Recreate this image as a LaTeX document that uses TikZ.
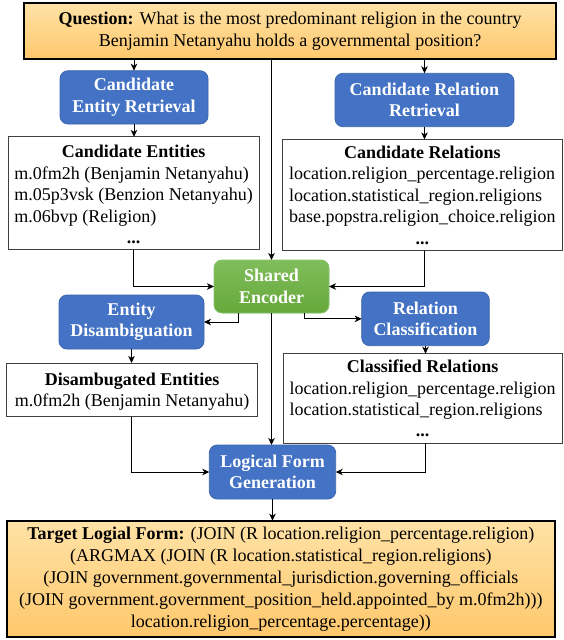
\documentclass[tikz,border=0pt]{standalone}
\usepackage{fontspec}
\setmainfont{Liberation Serif}
\usetikzlibrary{arrows.meta,calc}
\definecolor{bluebox}{HTML}{4472C4}
\definecolor{blueedge}{HTML}{3C66B0}
\definecolor{greentop}{HTML}{80BD5C}
\definecolor{greenbot}{HTML}{66A83A}
\definecolor{greenedge}{HTML}{8CC46A}
\definecolor{orangetop}{HTML}{FFE2A6}
\definecolor{orangebot}{HTML}{FFC86C}
\newcommand{\bigfont}{\fontsize{18}{21.4}\selectfont}
\newcommand{\ctr}[1]{\multicolumn{1}{@{}c@{}}{#1}}
\newcommand{\lowr}[1]{\rule{0pt}{#1}}
\tikzset{
  base/.style={font=\bigfont, inner sep=0pt, outer sep=0pt},
  proc/.style={base, draw=blueedge, fill=bluebox, rounded corners=8pt, text=white,
    font=\bigfont\bfseries, align=center, line width=0.8pt},
  enc/.style={proc, draw=greenedge, top color=greentop, bottom color=greenbot},
  info/.style={base, draw=black!75, line width=1pt, fill=white},
  hl/.style={base, draw=black, line width=1.8pt, top color=orangetop, bottom color=orangebot, align=center},
  arr/.style={-{Stealth[length=7pt,width=6.5pt,inset=2pt]}, line width=1pt},
}
\begin{document}
\begin{tikzpicture}[x=1pt,y=-1pt]
\useasboundingbox (0,0) rectangle (563,640);
% nodes
\node[hl, minimum width=532pt, minimum height=56.3pt] (q) at (290,31.15)
  {\textbf{Question:} What is the most predominant religion in the country\\Benjamin Netanyahu holds a governmental position?};
\node[proc, minimum width=148pt, minimum height=53.3pt] (cer) at (134,97.35) {Candidate\\Entity Retrieval};
\node[proc, minimum width=179pt, minimum height=53.4pt] (crr) at (424.5,100) {Candidate Relation\\Retrieval};
\node[info, minimum width=250.7pt, minimum height=106.7pt] (ce) at (133.65,193.35)
  {\begin{tabular}{@{}l@{}}\ctr{\lowr{21pt}\textbf{Candidate Entities}}\\ m.0fm2h (Benjamin Netanyahu)\\ m.05p3vsk (Benzion Netanyahu)\\ m.06bvp (Religion)\\ \ctr{\textbf{...}}\end{tabular}};
\node[info, minimum width=279.3pt, minimum height=103.4pt] (cr) at (422.35,195)
  {\begin{tabular}{@{}l@{}}\ctr{\lowr{19pt}\textbf{Candidate Relations}}\\ location.religion\_percentage.religion\\ location.statistical\_region.religions\\ base.popstra.religion\_choice.religion\\ \ctr{\textbf{...}}\end{tabular}};
\node[enc, minimum width=115pt, minimum height=53pt] (se) at (271.5,286.5) {Shared\\Encoder};
\node[proc, minimum width=145pt, minimum height=54pt] (ed) at (131.5,322) {Entity\\Disambiguation};
\node[proc, minimum width=127.6pt, minimum height=53.7pt] (rc) at (425.5,318.85) {Relation\\Classification};
\node[info, minimum width=251pt, minimum height=53.7pt] (de) at (132.2,389.85)
  {\begin{tabular}{@{}l@{}}\ctr{\lowr{19pt}\textbf{Disambugated Entities}}\\ m.0fm2h (Benjamin Netanyahu)\end{tabular}};
\node[info, minimum width=278.7pt, minimum height=85pt] (clr) at (422.65,398.5)
  {\begin{tabular}{@{}l@{}}\ctr{\lowr{19pt}\textbf{Classified Relations}}\\ location.religion\_percentage.religion\\ location.statistical\_region.religions\\ \ctr{\textbf{...}}\end{tabular}};
\node[proc, minimum width=126.4pt, minimum height=54pt] (lfg) at (272.5,472) {Logical Form\\Generation};
\node[hl, minimum width=548.3pt, minimum height=116pt, font=\fontsize{18}{22}\selectfont] (t) at (280.85,578.7)
  {\textbf{Target Logial Form:} (JOIN (R location.religion\_percentage.religion)\\
   (ARGMAX (JOIN (R location.statistical\_region.religions)\\
   (JOIN government.governmental\_jurisdiction.governing\_officials\\
   (JOIN government.government\_position\_held.appointed\_by m.0fm2h)))\\
   location.religion\_percentage.percentage))};
% connectors
\draw[arr] (q.south -| cer.north) -- (cer.north);
\draw[arr] (q.south -| crr.north) -- (crr.north);
\draw[arr] (q.south -| se.north) -- (se.north);
\draw[arr] (cer.south) -- (cer.south |- ce.north);
\draw[arr] (crr.south) -- (crr.south |- cr.north);
\draw[arr] (ce.south) |- (se.west);
\draw[arr] (crr.south |- cr.south) |- (se.east);
\draw[arr] ($(se.south west)!0.217!(se.south east)$) |- (ed.east);
\draw[arr] ($(se.south west)!0.783!(se.south east)$) |- (rc.west);
\draw[arr] (ed.south) -- (ed.south |- de.north);
\draw[arr] (rc.south) -- (rc.south |- clr.north);
\draw[arr] (de.south -| ed.south) |- (lfg.west);
\draw[arr] (clr.south -| rc.south) |- (lfg.east);
\draw[arr] (se.south) -- (se.south |- lfg.north);
\draw[arr] (lfg.south) -- (lfg.south |- t.north);
\end{tikzpicture}
\end{document}
